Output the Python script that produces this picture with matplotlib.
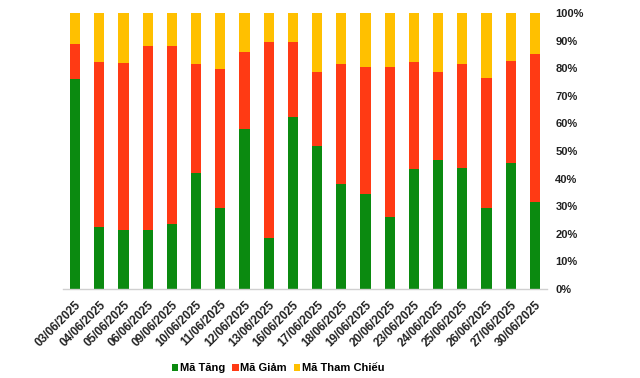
import matplotlib
matplotlib.use("Agg")
import matplotlib.pyplot as plt
from matplotlib.patches import Patch
import numpy as np

dates = ["03/06/2025", "04/06/2025", "05/06/2025", "06/06/2025", "09/06/2025",
         "10/06/2025", "11/06/2025", "12/06/2025", "13/06/2025", "16/06/2025",
         "17/06/2025", "18/06/2025", "19/06/2025", "20/06/2025", "23/06/2025",
         "24/06/2025", "25/06/2025", "26/06/2025", "27/06/2025", "30/06/2025"]
tang = [76.1, 22.5, 21.5, 21.5, 23.7, 42.0, 29.5, 58.0, 18.6, 62.3,
        51.9, 38.2, 34.5, 26.1, 43.5, 46.9, 44.0, 29.5, 45.7, 31.6]
giam = [12.7, 59.7, 60.4, 66.5, 64.3, 39.5, 50.2, 27.9, 70.9, 27.2,
        26.7, 43.3, 45.9, 54.3, 38.7, 31.7, 37.5, 46.9, 36.9, 53.5]
tham_chieu = [100 - a - b for a, b in zip(tang, giam)]

labels = ["Mã Tăng", "Mã Giảm", "Mã Tham Chiếu"]
colors = ["#0B8A10", "#FF3A14", "#FFC000"]

plt.rcParams['font.family'] = ['Liberation Sans', 'DejaVu Sans']

fig = plt.figure(figsize=(6.4, 3.78), dpi=100)
ax = fig.add_axes([63/640, 1 - 289/378, (547-63)/640, (289-13)/378])

x = np.arange(len(dates))
w = 0.42
t = np.array(tang); g = np.array(giam); c = np.array(tham_chieu)
ax.bar(x, t, w, color=colors[0], linewidth=0)
ax.bar(x, g, w, bottom=t, color=colors[1], linewidth=0)
ax.bar(x, c, w, bottom=t + g, color=colors[2], linewidth=0)

ax.set_xlim(-0.5, len(dates) - 0.5)
ax.set_ylim(0, 100)
ax.yaxis.tick_right()
ax.set_yticks(np.arange(0, 101, 10))
ax.set_yticklabels([f"{v}%" for v in range(0, 101, 10)], fontsize=8, fontweight='bold', color='#222222')
ax.set_xticks(x)
ax.set_xticklabels(dates, rotation=45, ha='right', rotation_mode='anchor',
                   fontsize=8.5, fontweight='bold', color='#222222')
ax.tick_params(axis='both', length=0)
ax.tick_params(axis='y', pad=6)
ax.tick_params(axis='x', pad=7)
for s in ['top', 'left', 'right']:
    ax.spines[s].set_visible(False)
ax.spines['bottom'].set_color('#d0d0d0')
ax.spines['bottom'].set_linewidth(1)

handles = [Patch(facecolor=col, edgecolor='none') for col in colors]
fig.legend(handles, labels, loc='center', bbox_to_anchor=(278/640, 1 - 368/378),
           ncol=3, frameon=False, handlelength=0.6, handleheight=0.6,
           handletextpad=0.15, columnspacing=0.6,
           prop={'size': 8, 'weight': 'bold'})

fig.savefig("out.png", dpi=100, facecolor='white')
